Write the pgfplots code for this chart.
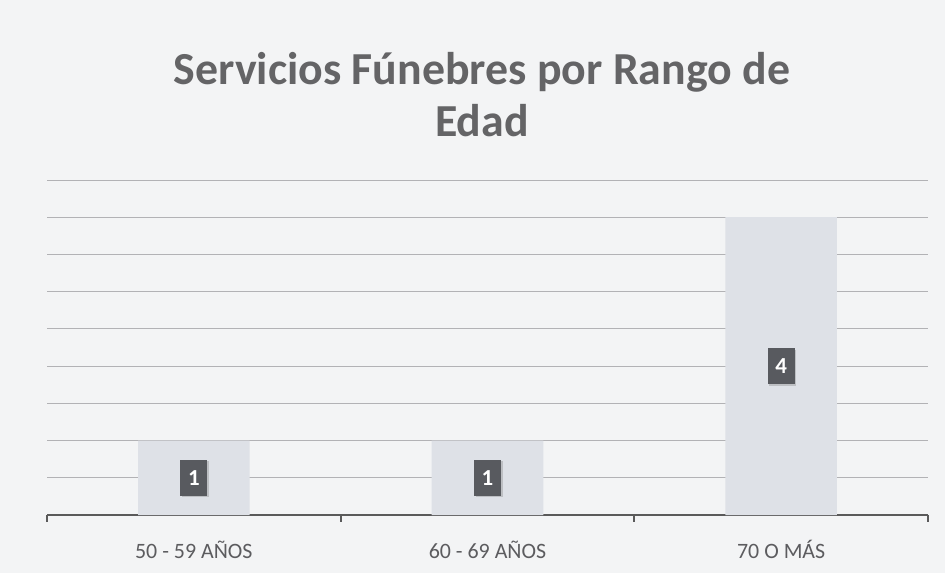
\documentclass[border=0pt]{standalone}
\usepackage{fontspec}
\setmainfont{Carlito}
\usepackage{pgfplots}
\usepackage{pgfplotstable}
\pgfplotsset{compat=1.18}
\usetikzlibrary{shadows}
\definecolor{bgcol}{RGB}{243,244,245}
\definecolor{barcol}{RGB}{222,225,231}
\definecolor{titlecol}{RGB}{100,100,102}
\definecolor{labcol}{RGB}{92,92,95}
\definecolor{boxcol}{RGB}{88,90,95}
\definecolor{axcol}{RGB}{90,90,90}
\definecolor{gridcol}{RGB}{178,178,181}
\pgfplotstableread{
x y
0 1
1 1
2 4
}\data
\begin{document}
\begin{tikzpicture}
\fill[bgcol] (0,0) rectangle (945bp,573bp);
\useasboundingbox (0,0) rectangle (945bp,573bp);
\node[anchor=base, text=titlecol, font=\fontsize{46}{53}\selectfont\bfseries] at (482bp,488bp) {Servicios Fúnebres por Rango de};
\node[anchor=base, text=titlecol, font=\fontsize{46}{53}\selectfont\bfseries] at (482bp,436bp) {Edad};
\begin{axis}[
  at={(47bp,58bp)}, anchor=south west,
  scale only axis, width=881bp, height=335bp,
  xmin=-0.5, xmax=2.5, ymin=0, ymax=4.5,
  axis x line*=bottom, axis y line*=left,
  x axis line style={-, draw=axcol, line width=2.2bp},
  y axis line style={draw=none},
  xtick={0,1,2},
  xticklabels={50 - 59 AÑOS, 60 - 69 AÑOS, 70 O MÁS},
  major x tick style={draw=none},
  minor xtick={-0.5,0.5,1.5,2.5},
  minor x tick style={draw=axcol, line width=2bp},
  xtick align=outside,
  minor tick length=7bp,
  major tick length=0pt,
  xticklabel style={font=\fontsize{22}{24}\selectfont, text=labcol, anchor=base, yshift=-43bp},
  ytick={0.5,1,...,4.5},
  yticklabels={},
  y tick style={draw=none},
  ymajorgrids,
  major grid style={draw=gridcol, line width=0.8bp},
  /pgf/number format/assume math mode=true,
  clip=false,
]
\addplot[ybar, bar width=0.38, fill=barcol, draw=none] table[x=x, y=y]{\data};
\addplot[draw=none, mark=none, nodes near coords, point meta=explicit,
  nodes near coords style={anchor=center, fill=boxcol, text=white,
    font=\fontsize{23}{25}\selectfont\bfseries, minimum width=27bp, minimum height=36bp, inner sep=0pt,
    drop shadow={opacity=0.35, shadow xshift=1.5bp, shadow yshift=-1.5bp}}]
  table[x=x, y expr=\thisrow{y}/2, meta=y]{\data};
\end{axis}
\end{tikzpicture}
\end{document}
